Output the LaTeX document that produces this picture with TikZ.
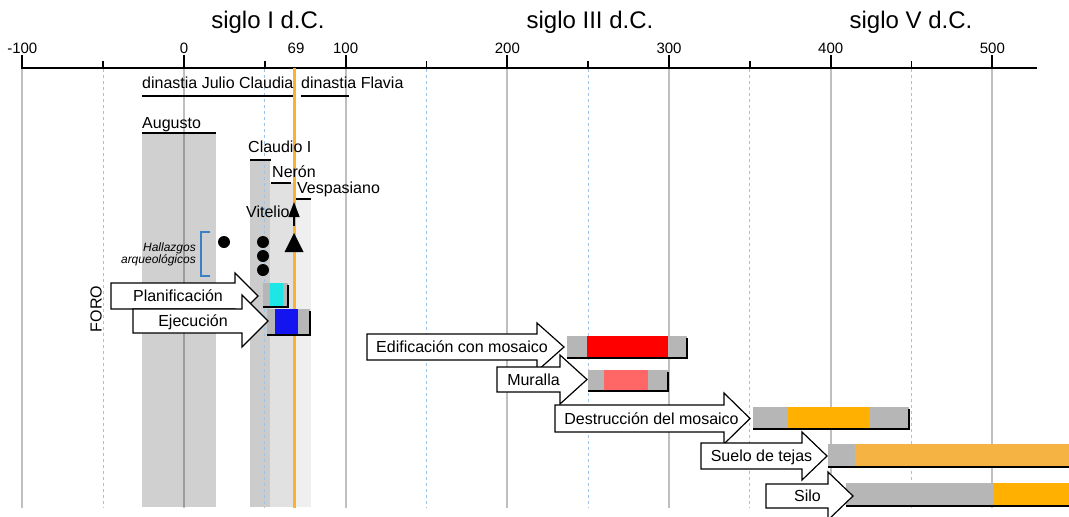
\documentclass[tikz,border=0pt]{standalone}
\usepackage{fontspec}
\setmainfont{Liberation Sans}
\usetikzlibrary{arrows.meta}
\definecolor{dashblue}{HTML}{9DC3E6}
\definecolor{orangeline}{HTML}{FBB22E}
\definecolor{barorange}{HTML}{FFB000}
\definecolor{hatchorange}{HTML}{F4B343}
\definecolor{hatchgray}{HTML}{B6B6B6}
\definecolor{pinkred}{HTML}{FF6666}
\definecolor{bracketblue}{HTML}{3A80C8}
\definecolor{cyanfill}{HTML}{1EE6E6}
\definecolor{bluefill}{HTML}{1414F0}
\definecolor{augray}{HTML}{D0D0D0}
\definecolor{clgray}{HTML}{CCCCCC}
\definecolor{negray}{HTML}{E1E1E1}
\definecolor{vegray}{HTML}{EFEFEF}
\newcommand{\blockarrow}[7]{% name, x0, xh, xt, yc, hb, hh
  \draw[arrowbox] (#2,#5-#6) -- (#3,#5-#6) -- (#3,#5-#7) -- (#4,#5) -- (#3,#5+#7) -- (#3,#5+#6) -- (#2,#5+#6) -- cycle;
}
\newcommand{\hatchrect}[4]{%
  \fill[hatchgray] (#1,#3) rectangle (#2,#4);
}
\newcommand{\timebar}[7]{% x0,x1,y0,y1,c0,c1,colourstyle
  \hatchrect{#1}{#2}{#3}{#4}
  \fill[#7] (#5,#3) rectangle (#6,#4-1.5);
  \draw[shadowline] (#1,#4) -- (#2,#4) -- (#2,#3+2);
}
\begin{document}
\begin{tikzpicture}[x=1pt,y=-1pt,
  lbl/.style={font=\fontsize{16}{19}\selectfont, inner sep=0pt},
  axnum/.style={font=\fontsize{15}{18}\selectfont, inner sep=0pt, anchor=base},
  ttl/.style={font=\fontsize{24}{28}\selectfont, inner sep=0pt, anchor=base},
  small/.style={font=\fontsize{12}{14}\selectfont\itshape, inner sep=0pt, anchor=base east},
  grayline/.style={draw=black, draw opacity=0.25, line width=2pt},
  halfline/.style={draw=dashblue, line width=1pt, dash pattern=on 3pt off 3pt},
  reignline/.style={line width=1.8pt},
  arrowbox/.style={draw=black, fill=white, line width=1.2pt, line join=miter},
  orangehatch/.style={fill=hatchorange},
  shadowline/.style={line width=1.8pt, draw=black},
  dot/.style={fill=black}
]
\useasboundingbox (0,0) rectangle (1069,517);
\begin{scope}
\clip (0,0) rectangle (1069,517);
% reign bands
\fill[augray] (142,133) rectangle (216,507);
\fill[clgray] (250,160) rectangle (270,507);
\fill[negray] (270,183) rectangle (294,507);
\fill[vegray] (294,198) rectangle (311,507);
% grid lines
\foreach \yr in {-100,0,...,500} {
  \draw[grayline] ({184+1.6167*\yr},68) -- ({184+1.6167*\yr},508);
  \draw[line width=1.8pt] ({184+1.6167*\yr},69) -- ({184+1.6167*\yr},55);
}
\foreach \yr in {-50,50,...,450} {
  \draw[halfline] ({184+1.6167*\yr},69) -- ({184+1.6167*\yr},508);
  \draw[line width=1.8pt] ({184+1.6167*\yr},69) -- ({184+1.6167*\yr},61);
}
\draw[line width=2pt] (22,68) -- (1037,68);
% axis labels
\foreach \yr/\nm in {-100/m100,0/y0,100/y100,200/y200,300/y300,400/y400,500/y500}
  \node[axnum] (\nm) at ({184+1.6167*\yr},53) {\yr};
\node[axnum] (y69) at (296,53) {69};
\node[ttl] (s1) at (268,28) {siglo I d.C.};
\node[ttl] (s3) at (590,28) {siglo III d.C.};
\node[ttl] (s5) at (911,28) {siglo V d.C.};
% orange line at 69
\draw[draw=orangeline, line width=3pt] (294.5,68) -- (294.5,508);
% dynasties
\node[lbl, anchor=base west] (dynJC) at (142,88) {dinastia Julio Claudia};
\node[lbl, anchor=base west] (dynF) at (301,88) {dinastia Flavia};
\draw[reignline] (142,96) -- (293,96);
\draw[reignline] (301,96) -- (349,96);
% emperors
\node[lbl, anchor=base west] (aug) at (142,128) {Augusto};
\draw[reignline] (142,133) -- (216,133);
\node[lbl, anchor=base west] (cla) at (248,152) {Claudio I};
\draw[reignline] (250,160) -- (271,160);
\node[lbl, anchor=base west] (ner) at (272,177) {Nerón};
\draw[reignline] (271,183) -- (291,183);
\node[lbl, anchor=base west] (ves) at (297,193) {Vespasiano};
\draw[reignline] (296,199) -- (311,199);
\node[lbl, anchor=base west] (vit) at (246,217) {Vitelio};
\coordinate (vitA) at (294,226);
\coordinate (vitB) at (294,202);
\draw[line width=1.5pt, -{Triangle[length=15pt,width=11pt]}] (vitA) -- (vitB);
% hallazgos
\node[small] (hal1) at (196,251) {Hallazgos};
\node[small] (hal2) at (196,263) {arqueológicos};
\draw[bracketblue, line width=1.2pt] (210,232) -- (201,232) -- (201,276) -- (210,276);
\fill[dot] (224,242) circle[radius=6pt];
\fill[dot] (263,242) circle[radius=6pt];
\fill[dot] (263,256) circle[radius=6pt];
\fill[dot] (263,270) circle[radius=6pt];
\fill (294,233) -- (303.5,252) -- (284.5,252) -- cycle;
% FORO
\node[lbl, rotate=90] (foro) at (96,309) {FORO};
% bars
\timebar{263}{288}{283}{307}{270}{283}{cyanfill}
\timebar{267}{310}{309}{335}{275}{298}{bluefill}
\timebar{567}{687}{336}{358}{587}{668}{red}
\timebar{588}{668}{370}{391}{604}{648}{pinkred}
\timebar{753}{909}{407}{429}{788}{869}{barorange}
\hatchrect{828}{1075}{444}{467}
\fill[orangehatch] (855,444) rectangle (1075,465.5);
\draw[shadowline] (828,467) -- (1075,467);
\hatchrect{846}{1075}{483}{506}
\fill[barorange] (993,483) rectangle (1075,504.5);
\draw[shadowline] (846,506) -- (1075,506);
% block arrows
\blockarrow{pl}{111}{235}{258}{296}{13}{23}
\node[lbl, anchor=base] (plan) at (178,301.5) {Planificación};
\blockarrow{ej}{133}{242}{268}{321}{12}{26}
\node[lbl, anchor=base] (ejec) at (193,326.5) {Ejecución};
\blockarrow{ed}{367}{537}{564}{347}{13}{24}
\node[lbl, anchor=base] (edif) at (462,352.5) {Edificación con mosaico};
\blockarrow{mu}{497}{560}{587}{379.5}{12.5}{24.5}
\node[lbl, anchor=base] (mura) at (533.5,385) {Muralla};
\blockarrow{de}{555}{724}{750}{418.5}{13.5}{25.5}
\node[lbl, anchor=base] (dest) at (651.5,424) {Destrucción del mosaico};
\blockarrow{su}{701}{802}{827}{456}{13}{24}
\node[lbl, anchor=base] (suel) at (761.5,461.5) {Suelo de tejas};
\blockarrow{si}{766}{828}{853}{496}{12}{24}
\node[lbl, anchor=base] (silo) at (807.5,501.5) {Silo};
\end{scope}
\end{tikzpicture}
\end{document}
